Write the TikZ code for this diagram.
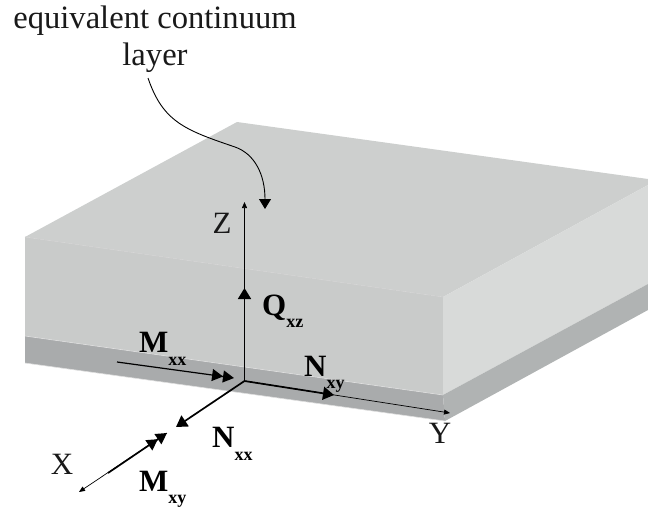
\documentclass[tikz,border=0pt]{standalone}
\usepackage{fontspec}
\setmainfont{Liberation Serif}
\usetikzlibrary{arrows.meta}
\tikzset{
  px/.style={x=1pt,y=-1pt},
  lab/.style={inner sep=0pt,font=\fontsize{32.6}{37}\selectfont,text=black!90},
  axlab/.style={inner sep=0pt,font=\fontsize{31}{32}\selectfont,text=black!90},
  force/.style={inner sep=0pt,font=\fontsize{31}{30}\selectfont\bfseries,text=black},
  thinax/.style={line width=0.7pt,black,-{Triangle[length=6pt,width=5pt]}},
  thickax/.style={line width=1.7pt,black},
  bigtip/.style={-{Triangle[length=11pt,width=13pt]}},
  twotip/.style={-{Triangle[length=11pt,width=12pt]Triangle[length=11pt,width=12pt]}},
  edge/.style={white!65!gray,line width=0.7pt,dash pattern=on 4pt off 1pt}
}
\newcommand{\forcelab}[2]{#1\raisebox{-0.40em}{\fontsize{18}{18}\selectfont #2}}
\begin{document}
\begin{tikzpicture}[px]
\useasboundingbox (0,0) rectangle (648,511);
\coordinate (tb) at (237,122);
\coordinate (tl) at (25,237);
\coordinate (tf) at (443,297);
\coordinate (tr) at (648,179);
\coordinate (rt) at (648,185);
\coordinate (bl) at (25,336);
\coordinate (bf) at (443,395);
\coordinate (br) at (648,284);
\coordinate (dl) at (25,363);
\coordinate (df) at (445,421);
\coordinate (dr) at (648,310);
\fill[fill={rgb,255:red,205;green,207;blue,206}] (tb)--(tr)--(rt)--(tf)--(tl)--cycle;
\fill[fill={rgb,255:red,201;green,203;blue,202}] (tl)--(tf)--(bf)--(bl)--cycle;
\fill[fill={rgb,255:red,216;green,218;blue,217}] (tf)--(rt)--(br)--(bf)--cycle;
\fill[fill={rgb,255:red,169;green,171;blue,172}] (bl)--(bf)--(df)--(dl)--cycle;
\fill[fill={rgb,255:red,176;green,179;blue,179}] (bf)--(br)--(dr)--(df)--cycle;
\draw[edge] (tl)--(tf);
\draw[white!75!gray,line width=0.6pt] (bl)--(bf);
\draw[white!75!gray,line width=0.6pt] (dl)--(df);

\node[lab,align=center] (title) at (155,39) {equivalent continuum\\layer};
\coordinate (cs) at (148,78);
\coordinate (ct) at (265,209);
\draw[line width=0.9pt,black,-{Triangle[length=10pt,width=12pt]}] (cs) .. controls (163,122) and (185,130) .. (235,147) .. controls (255,154) and (265,175) .. (ct);

\coordinate (O) at (244.5,381);
\coordinate (zt) at (244.5,202);
\coordinate (qt) at (244.5,288);
\coordinate (yt) at (450,413);
\coordinate (nyt) at (334,395);
\coordinate (mxs) at (117,362);
\coordinate (mxt) at (234,378);
\coordinate (xt) at (79,492);
\coordinate (nxt) at (176,427);
\coordinate (mys) at (108,473);
\coordinate (myt) at (167,433);
\draw[thinax] (O)--(zt);
\draw[thinax] (O)--(yt);
\draw[thinax] (myt)--(xt);
\draw[thickax,bigtip] (O)--(qt);
\draw[thickax,bigtip] (O)--(nyt);
\draw[thickax,bigtip] (O)--(nxt);
\draw[line width=1.2pt,black,twotip] (mxs)--(mxt);
\draw[thickax,twotip] (mys)--(myt);

\node[axlab] (zl) at (222,223) {Z};
\node[axlab] (yl) at (440,433) {Y};
\node[axlab] (xl) at (62,464) {X};
\node[force,anchor=west] (q) at (262,311) {\forcelab{Q}{xz}};
\node[force,anchor=west] (mx) at (139,349) {\forcelab{M}{xx}};
\node[force,anchor=west] (ny) at (304,374) {\forcelab{N}{xy}};
\node[force,anchor=west] (nx) at (212,444) {\forcelab{N}{xx}};
\node[force,anchor=west] (my) at (139,489) {\forcelab{M}{xy}};
\end{tikzpicture}
\end{document}
